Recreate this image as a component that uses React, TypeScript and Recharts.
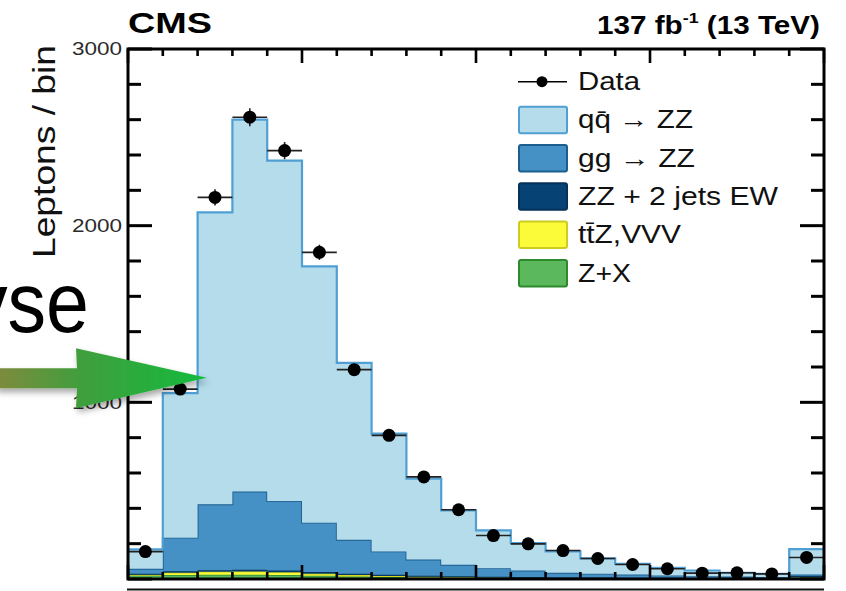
import {
  ComposedChart,
  Area,
  Scatter,
  ErrorBar,
  XAxis,
  YAxis,
  Legend,
} from "recharts";

// bin edges (20 bins, last one is the overflow bin)
const BIN_EDGES = [0, 1, 2, 3, 4, 5, 6, 7, 8, 9, 10, 11, 12, 13, 14, 15, 16, 17, 18, 19, 20];

// observed leptons per bin
const DATA_COUNTS = [155, 1075, 2160, 2614, 2425, 1849, 1185, 813, 578, 392, 246, 199, 161, 116, 82, 58, 33, 35, 29, 122];
const DATA_ERRORS = [12, 33, 46, 51, 49, 43, 34, 29, 24, 20, 16, 14, 13, 11, 9, 8, 6, 6, 5, 11];

// stacked predictions, per bin
const QQ_ZZ = [110, 818, 1652, 2105, 1926, 1451, 1001, 667, 458, 308, 214, 155, 121, 87, 61, 43, 32, 21, 17, 144];
const GG_ZZ = [28, 190, 373, 443, 394, 280, 192, 132, 91, 65, 48, 37, 26, 22, 18, 13, 11, 9, 7, 8];
const ZZ_EW = [6, 8, 9, 10, 10, 9, 8, 7, 6, 5, 5, 4, 4, 3, 3, 3, 2, 2, 2, 8];
const TTZ_VVV = [4, 14, 17, 18, 16, 12, 8, 6, 4, 3, 2, 2, 1, 1, 1, 1, 1, 1, 1, 3];
const Z_PLUS_X = [20, 22, 24, 24, 22, 18, 14, 11, 9, 7, 6, 5, 4, 4, 3, 3, 2, 2, 2, 6];

const Y_TICKS = [0, 200, 400, 600, 800, 1000, 1200, 1400, 1600, 1800, 2000, 2200, 2400, 2600, 2800, 3000];
const Y_LABELS = [1000, 2000, 3000];
const Y_MAX = 3000;
const X_MAX = 20;

const FONT = '"Liberation Sans", Arial, Helvetica, sans-serif';

// plot frame in px
const W = 846;
const H = 591;
const LEFT = 128;
const RIGHT = 824;
const TOP = 49;
const BOTTOM = 579;

const COLORS = {
  qq: { fill: "#b4dcea", stroke: "#4f9fd4" },
  gg: { fill: "#4590c4", stroke: "#1d5e90" },
  ew: { fill: "#064273", stroke: "#043259" },
  ttz: { fill: "#fbfb3a", stroke: "#cccc22" },
  zx: { fill: "#5cb85c", stroke: "#2d8a2d" },
};

const LEGEND_ITEMS = [
  { key: "qq", label: "qq\u0304 \u2192 ZZ", len: 115 },
  { key: "gg", label: "gg \u2192 ZZ", len: 117 },
  { key: "ew", label: "ZZ + 2 jets EW", len: 200 },
  { key: "ttz", label: "tt\u0304Z,VVV", len: 103 },
  { key: "zx", label: "Z+X", len: 53 },
] as const;

// step histograms: one row per bin edge, last edge repeats the last bin
const stackRows = BIN_EDGES.map((x, i) => {
  const b = Math.min(i, DATA_COUNTS.length - 1);
  return {
    x,
    zx: Z_PLUS_X[b],
    ttz: TTZ_VVV[b],
    ew: ZZ_EW[b],
    gg: GG_ZZ[b],
    qq: QQ_ZZ[b],
  };
});

const dataRows = DATA_COUNTS.map((n, i) => ({
  x: (BIN_EDGES[i] + BIN_EDGES[i + 1]) / 2,
  n,
  ex: (BIN_EDGES[i + 1] - BIN_EDGES[i]) / 2,
  ey: DATA_ERRORS[i],
}));

// only the labels come from the axis; the inward ROOT-style ticks sit on the frame
function YTick(props: any) {
  const { payload } = props;
  const v = payload.value;
  if (!Y_LABELS.includes(v)) return <g />;
  return (
    <text
      x={122}
      y={payload.coordinate}
      dy="0.36em"
      textAnchor="end"
      fontSize={18}
      fontFamily={FONT}
      fill="#2a2a2a"
      textLength={50}
      lengthAdjust="spacingAndGlyphs"
    >
      {v}
    </text>
  );
}

function YLabel() {
  return (
    <text
      transform="translate(55,258) rotate(-90)"
      fontSize={31}
      fontFamily={FONT}
      fill="#111"
      textLength={213}
      lengthAdjust="spacingAndGlyphs"
    >
      Leptons / bin
    </text>
  );
}

function LegendBox() {
  return (
    <svg width={290} height={240} style={{ display: "block" }}>
      <line x1={8} x2={57} y1={21.7} y2={21.7} stroke="#000" strokeWidth={1.5} />
      <circle cx={32} cy={21.7} r={5.5} fill="#000" />
      <text
        x={68}
        y={30}
        fontSize={25}
        fontFamily={FONT}
        fill="#111"
        textLength={62}
        lengthAdjust="spacingAndGlyphs"
      >
        Data
      </text>
      {LEGEND_ITEMS.map((item, i) => {
        const top = 46.7 + i * 38.3;
        const c = COLORS[item.key];
        return (
          <g key={item.key}>
            <rect
              x={9}
              y={top}
              width={48}
              height={26.5}
              rx={2}
              fill={c.fill}
              stroke={c.stroke}
              strokeWidth={2}
            />
            <text
              x={68}
              y={top + 21.6}
              fontSize={25}
              fontFamily={FONT}
              fill="#111"
              textLength={item.len}
              lengthAdjust="spacingAndGlyphs"
            >
              {item.label}
            </text>
          </g>
        );
      })}
    </svg>
  );
}

const yPx = (v: number) => BOTTOM - (v / Y_MAX) * (BOTTOM - TOP);
const xPx = (v: number) => LEFT + (v / X_MAX) * (RIGHT - LEFT);

function Overlay() {
  return (
    <svg
      width={W}
      height={H}
      style={{ position: "absolute", left: 0, top: 0, pointerEvents: "none" }}
    >
      <defs>
        <linearGradient id="arrowGrad" gradientUnits="userSpaceOnUse" x1={0} y1={0} x2={207} y2={0}>
          <stop offset="0" stopColor="#7d8b3c" />
          <stop offset="0.4" stopColor="#3f9f3c" />
          <stop offset="1" stopColor="#13bb3c" />
        </linearGradient>
        <filter id="shadow" x="-20%" y="-40%" width="140%" height="180%">
          <feDropShadow dx={2} dy={4} stdDeviation={3} floodColor="#000" floodOpacity={0.35} />
        </filter>
      </defs>

      {/* frame of the upper panel with inward ticks */}
      <rect x={LEFT} y={TOP} width={RIGHT - LEFT} height={BOTTOM - TOP} fill="none" stroke="#000" strokeWidth={3} />
      {Y_TICKS.map((v) => {
        const len = v % 1000 === 0 ? 24 : 13;
        const y = yPx(v);
        return (
          <g key={`y${v}`}>
            <line x1={LEFT} x2={LEFT + len} y1={y} y2={y} stroke="#000" strokeWidth={3} />
            <line x1={RIGHT} x2={RIGHT - len} y1={y} y2={y} stroke="#000" strokeWidth={3} />
          </g>
        );
      })}
      {BIN_EDGES.map((v) => {
        const len = v % 5 === 0 ? 14 : 7;
        const x = xPx(v);
        return (
          <g key={`x${v}`}>
            <line x1={x} x2={x} y1={BOTTOM} y2={BOTTOM - len} stroke="#000" strokeWidth={2.6} />
            <line x1={x} x2={x} y1={TOP} y2={TOP + len} stroke="#000" strokeWidth={2.6} />
          </g>
        );
      })}

      <text
        x={128}
        y={33}
        fontSize={30}
        fontWeight="bold"
        fontFamily={FONT}
        fill="#000"
        textLength={84}
        lengthAdjust="spacingAndGlyphs"
      >
        CMS
      </text>
      <text
        x={597}
        y={33.5}
        fontSize={25}
        fontWeight="bold"
        fontFamily={FONT}
        fill="#000"
        textLength={223}
        lengthAdjust="spacingAndGlyphs"
      >
        137 fb
        <tspan fontSize={15} dy={-11}>
          -1
        </tspan>
        <tspan dy={11}> (13 TeV)</tspan>
      </text>

      {/* top of the ratio panel below, cut by the crop */}
      <line x1={127} x2={824} y1={589.5} y2={589.5} stroke="#111" strokeWidth={2} />

      {/* slide annotation on top of the figure */}
      <text
        x={-31}
        y={332}
        fontSize={86}
        fontFamily={FONT}
        fill="#000"
        textLength={120}
        lengthAdjust="spacingAndGlyphs"
      >
        yse
      </text>
      <g filter="url(#shadow)">
        <polygon
          points="-5,368.3 77,368.3 76,348.3 206.7,377.7 76,408.3 77,388.3 -5,388.3"
          fill="url(#arrowGrad)"
        />
      </g>
    </svg>
  );
}

export default function App() {
  return (
    <div
      style={{
        position: "absolute",
        left: 0,
        top: 0,
        width: W,
        height: H,
        background: "#fff",
        fontFamily: FONT,
      }}
    >
      <ComposedChart
        width={W}
        height={H}
        data={stackRows}
        margin={{ top: TOP, right: W - RIGHT, bottom: H - BOTTOM, left: 0 }}
      >
        <Area
          type="stepAfter"
          dataKey="zx"
          name="Z+X"
          stackId="mc"
          fill={COLORS.zx.fill}
          stroke={COLORS.zx.stroke}
          strokeWidth={1.5}
          fillOpacity={1}
          isAnimationActive={false}
        />
        <Area
          type="stepAfter"
          dataKey="ttz"
          name="ttZ,VVV"
          stackId="mc"
          fill={COLORS.ttz.fill}
          stroke={COLORS.ttz.stroke}
          strokeWidth={1.5}
          fillOpacity={1}
          isAnimationActive={false}
        />
        <Area
          type="stepAfter"
          dataKey="ew"
          name="ZZ + 2 jets EW"
          stackId="mc"
          fill={COLORS.ew.fill}
          stroke={COLORS.ew.stroke}
          strokeWidth={1.5}
          fillOpacity={1}
          isAnimationActive={false}
        />
        <Area
          type="stepAfter"
          dataKey="gg"
          name="gg -> ZZ"
          stackId="mc"
          fill={COLORS.gg.fill}
          stroke={COLORS.gg.stroke}
          strokeWidth={1.8}
          fillOpacity={1}
          isAnimationActive={false}
        />
        <Area
          type="stepAfter"
          dataKey="qq"
          name="qq -> ZZ"
          stackId="mc"
          fill={COLORS.qq.fill}
          stroke={COLORS.qq.stroke}
          strokeWidth={2.2}
          fillOpacity={1}
          isAnimationActive={false}
        />
        <Scatter
          data={dataRows}
          dataKey="n"
          name="Data"
          isAnimationActive={false}
          shape={(p: any) => <circle cx={p.cx} cy={p.cy} r={6.5} fill="#000" />}
        >
          <ErrorBar dataKey="ex" direction="x" width={0} stroke="#222" strokeWidth={1.6} isAnimationActive={false} />
          <ErrorBar dataKey="ey" direction="y" width={0} stroke="#222" strokeWidth={1.6} isAnimationActive={false} />
        </Scatter>
        <XAxis
          dataKey="x"
          type="number"
          domain={[0, X_MAX]}
          ticks={BIN_EDGES}
          interval={0}
          height={0}
          axisLine={false}
          tickLine={false}
          tick={false}
          allowDataOverflow
        />
        <YAxis
          type="number"
          domain={[0, Y_MAX]}
          ticks={Y_TICKS}
          interval={0}
          width={LEFT}
          axisLine={false}
          tickLine={false}
          tick={<YTick />}
          label={<YLabel />}
          allowDataOverflow
        />
        <Legend
          layout="vertical"
          align="center"
          verticalAlign="middle"
          wrapperStyle={{ left: 510, top: 60, width: 290, height: 240 }}
          content={<LegendBox />}
        />
      </ComposedChart>
      <Overlay />
    </div>
  );
}
